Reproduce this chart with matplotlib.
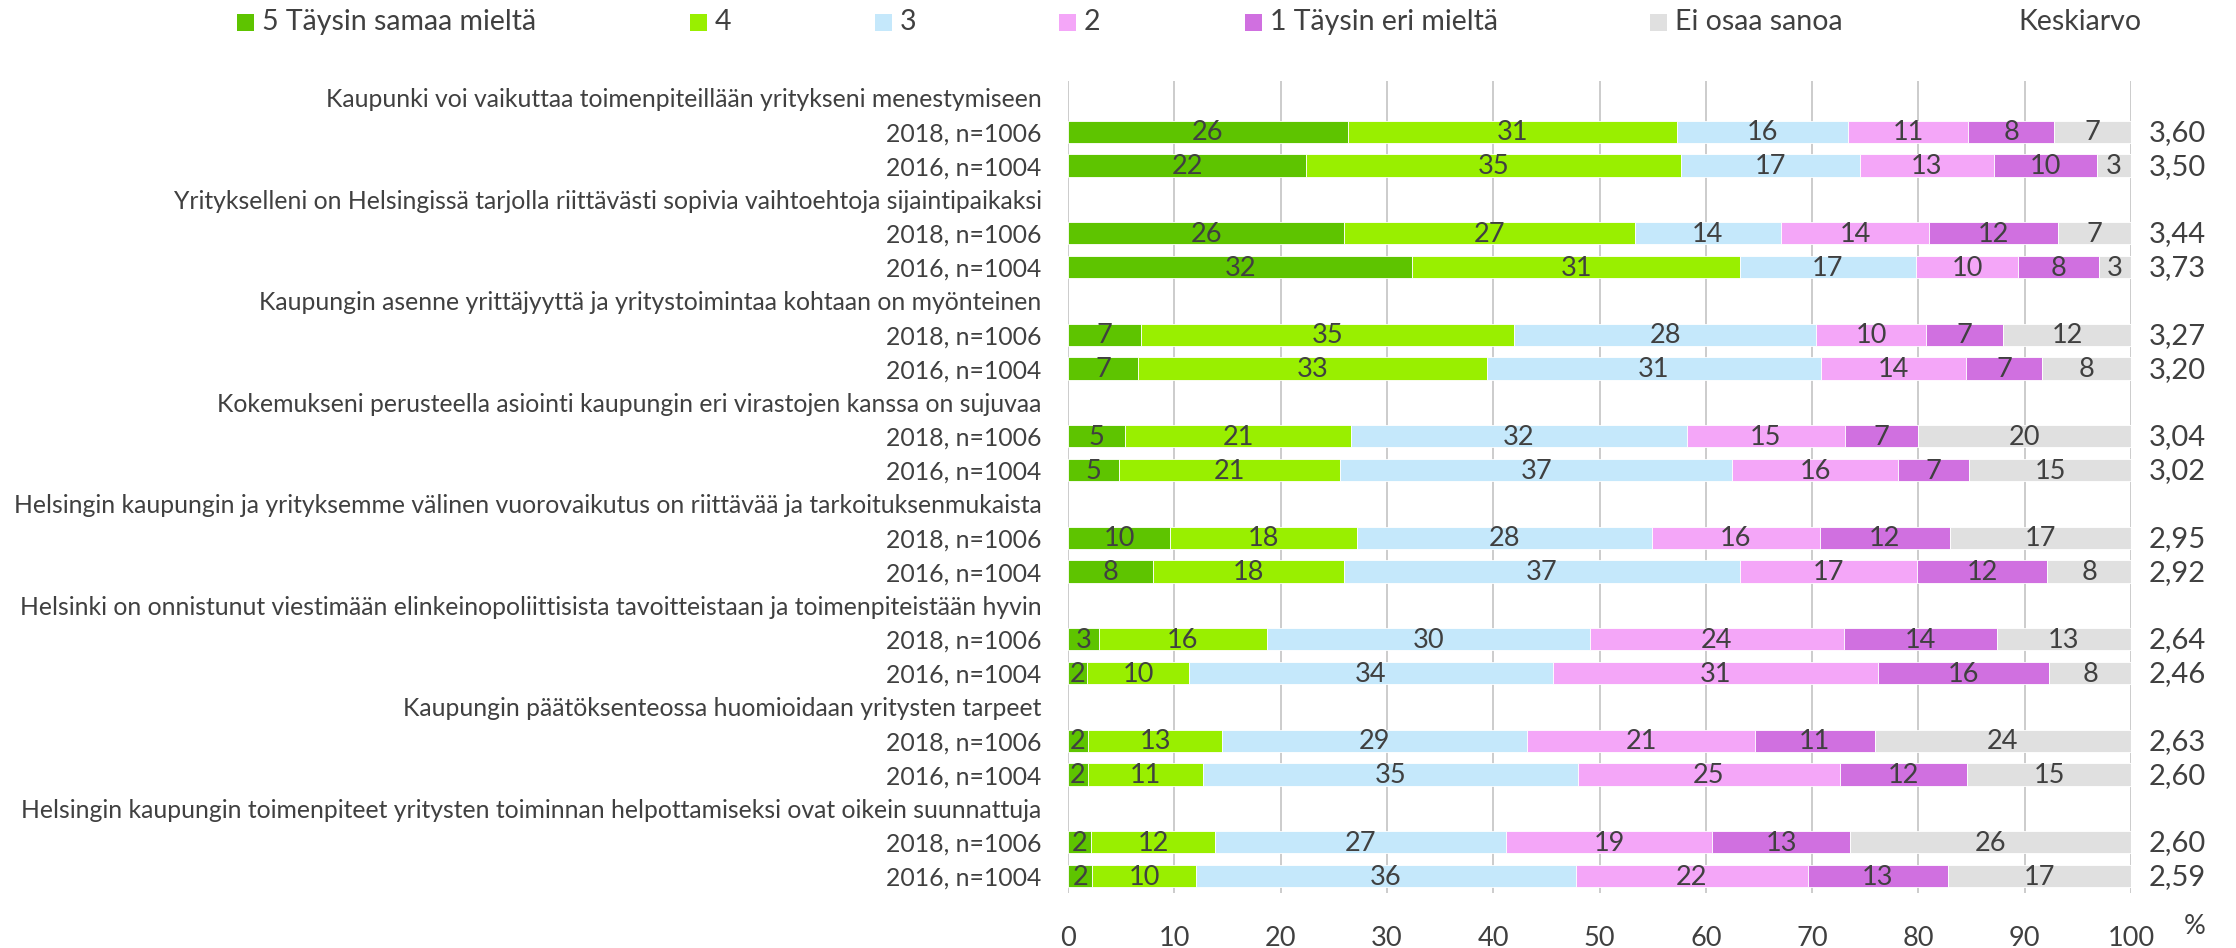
import matplotlib
matplotlib.use("Agg")
import matplotlib.pyplot as plt
import matplotlib.transforms as mtransforms
from matplotlib.patches import Rectangle

plt.rcParams['font.family'] = ['Lato', 'DejaVu Sans']

# ---------------- data ----------------
questions = [
    "Kaupunki voi vaikuttaa toimenpiteillään yritykseni menestymiseen",
    "Yritykselleni on Helsingissä tarjolla riittävästi sopivia vaihtoehtoja sijaintipaikaksi",
    "Kaupungin asenne yrittäjyyttä ja yritystoimintaa kohtaan on myönteinen",
    "Kokemukseni perusteella asiointi kaupungin eri virastojen kanssa on sujuvaa",
    "Helsingin kaupungin ja yrityksemme välinen vuorovaikutus on riittävää ja tarkoituksenmukaista",
    "Helsinki on onnistunut viestimään elinkeinopoliittisista tavoitteistaan ja toimenpiteistään hyvin",
    "Kaupungin päätöksenteossa huomioidaan yritysten tarpeet",
    "Helsingin kaupungin toimenpiteet yritysten toiminnan helpottamiseksi ovat oikein suunnattuja",
]
years = ["2018, n=1006", "2016, n=1004"]
series_names = ["5 Täysin samaa mieltä", "4", "3", "2", "1 Täysin eri mieltä", "Ei osaa sanoa"]

# bars ordered: Q1 2018, Q1 2016, Q2 2018, Q2 2016, ...
cat5 = [26.3, 22.4, 26.0, 32.4, 6.9, 6.6, 5.4, 4.8, 9.6, 8.0, 2.9, 1.8, 1.9, 1.9, 2.2, 2.3]
cat4 = [31.0, 35.3, 27.3, 30.8, 35.1, 32.8, 21.2, 20.8, 17.6, 18.0, 15.8, 9.6, 12.6, 10.8, 11.6, 9.7]
cat3 = [16.1, 16.8, 13.8, 16.6, 28.4, 31.4, 31.6, 36.9, 27.7, 37.2, 30.4, 34.2, 28.7, 35.3, 27.4, 35.8]
cat2 = [11.3, 12.6, 13.9, 9.6, 10.3, 13.7, 14.9, 15.6, 15.8, 16.7, 23.9, 30.6, 21.4, 24.6, 19.4, 21.8]
cat1 = [8.1, 9.7, 12.1, 7.6, 7.3, 7.1, 6.9, 6.7, 12.3, 12.2, 14.4, 16.1, 11.3, 12.0, 13.0, 13.2]
eos  = [7.2, 3.2, 6.9, 3.0, 12.0, 8.4, 20.0, 15.2, 17.0, 7.9, 12.6, 7.7, 24.1, 15.4, 26.4, 17.2]
means = [3.60, 3.50, 3.44, 3.73, 3.27, 3.20, 3.04, 3.02, 2.95, 2.92, 2.64, 2.46, 2.63, 2.60, 2.60, 2.59]

xticks = [0, 10, 20, 30, 40, 50, 60, 70, 80, 90, 100]

# ---------------- style ----------------
colors = ["#5ec400", "#99ef00", "#c5e8fb", "#f4a6f8", "#d070e0", "#e0e0e0"]
txt = "#404040"
fs_lab = 19.5
fs_y = 17.8
fs_leg = 20.5
W, H = 2236, 948

fig = plt.figure(figsize=(W / 100, H / 100), dpi=100)
left_px, right_px, top_px, bot_px = 1068, 2131, 81, 893
ax = fig.add_axes([left_px / W, 1 - bot_px / H, (right_px - left_px) / W, (bot_px - top_px) / H])

# y layout: title row, then the two year rows for each question
ylabels, bar_rows = [], []
r = 0
for q in questions:
    ylabels.append(q)
    r += 1
    for y in years:
        ylabels.append(y)
        bar_rows.append(r)
        r += 1

series = [cat5, cat4, cat3, cat2, cat1, eos]
lefts = [0.0] * len(bar_rows)
for vals, col in zip(series, colors):
    bars = ax.barh(bar_rows, vals, left=lefts, height=0.66, color=col,
                   edgecolor="white", linewidth=0.6, zorder=3)
    for b, v in zip(bars, vals):
        ax.text(b.get_x() + b.get_width() / 2, b.get_y() + b.get_height() / 2 + 0.03,
                f"{v:.0f}", ha="center", va="center", fontsize=fs_lab, color=txt, zorder=4)
    lefts = [l + v for l, v in zip(lefts, vals)]

ax.set_xlim(0, 100)
ax.set_ylim(len(ylabels) - 0.5, -0.5)
ax.set_yticks(range(len(ylabels)))
ax.set_yticklabels(ylabels, fontsize=fs_y, color=txt)
ax.tick_params(axis="y", length=0, pad=19)
ax.set_xticks(xticks)
ax.set_xticklabels([str(t) for t in xticks], fontsize=fs_lab, color=txt)
ax.tick_params(axis="x", length=0, pad=24)
ax.grid(axis="x", color="#cccccc", linewidth=1.4, zorder=0)
ax.set_axisbelow(True)
for s in ax.spines.values():
    s.set_visible(False)

# mean values at right
trans = mtransforms.blended_transform_factory(fig.transFigure, ax.transData)
for row, m in zip(bar_rows, means):
    ax.text(2149 / W, row + 0.03, f"{m:.2f}".replace(".", ","), transform=trans,
            ha="left", va="center", fontsize=21, color=txt)

fig.text(2195 / W, 1 - 926 / H, "%", ha="center", va="center", fontsize=fs_lab, color=txt)

# legend (manual placement)
sq_x = [237, 690, 875, 1059, 1245, 1650]
ly = 22
sq = 17
for x, name, col in zip(sq_x, series_names, colors):
    fig.add_artist(Rectangle((x / W, 1 - (ly + sq / 2) / H), sq / W, sq / H,
                             transform=fig.transFigure, facecolor=col, edgecolor="none"))
    fig.text((x + 25) / W, 1 - ly / H, name, ha="left", va="center", fontsize=fs_leg, color=txt)
fig.text(2018 / W, 1 - ly / H, "Keskiarvo", ha="left", va="center", fontsize=fs_leg, color=txt)

fig.savefig("out.png", dpi=100, facecolor="white")
